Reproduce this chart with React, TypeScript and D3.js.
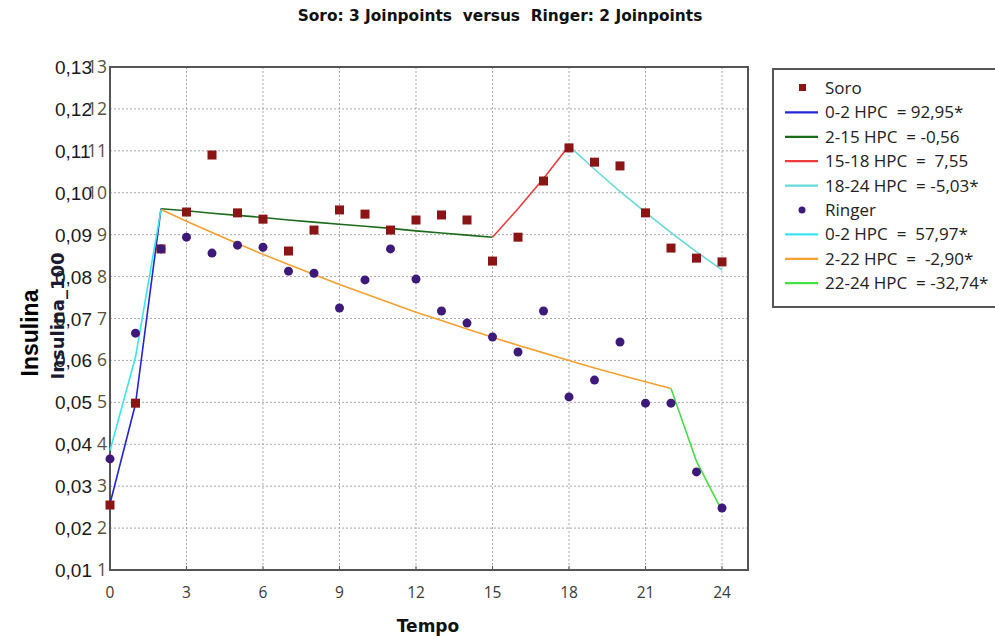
import React from "react";
import * as d3 from "d3";

const tempo = [0, 1, 2, 3, 4, 5, 6, 7, 8, 9, 10, 11, 12, 13, 14, 15, 16, 17, 18, 19, 20, 21, 22, 23, 24];
const soroObs = [2.55, 4.98, 8.66, 9.54, 10.9, 9.52, 9.37, 8.61, 9.11, 9.59, 9.49, 9.11, 9.35, 9.47, 9.35, 8.37, 8.94, 10.28, 11.07, 10.73, 10.64, 9.52, 8.68, 8.44, 8.35];
const ringerObs = [3.65, 6.65, 8.66, 8.94, 8.56, 8.75, 8.7, 8.13, 8.08, 7.25, 7.92, 8.66, 7.94, 7.18, 6.89, 6.56, 6.2, 7.18, 5.13, 5.53, 6.44, 4.98, 4.98, 3.34, 2.48];
const soroFit = [2.58, 4.96, 9.62, 9.57, 9.51, 9.46, 9.41, 9.35, 9.3, 9.25, 9.2, 9.15, 9.09, 9.04, 8.99, 8.94, 9.62, 10.34, 11.12, 10.56, 10.03, 9.53, 9.05, 8.59, 8.16];
const ringerFit = [3.85, 6.08, 9.6, 9.32, 9.05, 8.79, 8.53, 8.29, 8.05, 7.81, 7.59, 7.37, 7.15, 6.95, 6.75, 6.55, 6.36, 6.18, 6.0, 5.82, 5.65, 5.49, 5.33, 3.59, 2.41];

const soroSegs = [[0, 2], [2, 15], [15, 18], [18, 24]];
const soroSegLabels = ["0-2 HPC  = 92,95*", "2-15 HPC  = -0,56", "15-18 HPC  =  7,55", "18-24 HPC  = -5,03*"];
const soroSegColors = ["#2424d8", "#1b6b1b", "#ee3b3b", "#66d9d9"];
const ringerSegs = [[0, 2], [2, 22], [22, 24]];
const ringerSegLabels = ["0-2 HPC  =  57,97*", "2-22 HPC  =  -2,90*", "22-24 HPC  = -32,74*"];
const ringerSegColors = ["#3ae6f2", "#f5a030", "#44e044"];

const xTicks = [0, 3, 6, 9, 12, 15, 18, 21, 24];
const yTicks = [1, 2, 3, 4, 5, 6, 7, 8, 9, 10, 11, 12, 13];
const yTickOuter = ["0,01", "0,02", "0,03", "0,04", "0,05", "0,06", "0,07", "0,08", "0,09", "0,10", "0,11", "0,12", "0,13"];

const SORO_COLOR = "#8b1515";
const RINGER_COLOR = "#3d1a7a";

export default function App() {
  const x = d3.scaleLinear().domain([0, 24]).range([110, 722]);
  const y = d3.scaleLinear().domain([1, 13]).range([570, 67]);
  const left = 110, right = 748, top = 67, bottom = 570;

  const segPath = (fit: number[], a: number, b: number) => {
    const pts: [number, number][] = [];
    for (let i = 0; i < tempo.length; i++) {
      if (tempo[i] >= a && tempo[i] <= b) pts.push([x(tempo[i]), y(fit[i])]);
    }
    return d3.line()(pts) || "";
  };

  const legendRows: { kind: string; label: string; color: string }[] = [
    { kind: "square", label: "Soro", color: SORO_COLOR },
    ...soroSegLabels.map((l, i) => ({ kind: "line", label: l, color: soroSegColors[i] })),
    { kind: "circle", label: "Ringer", color: RINGER_COLOR },
    ...ringerSegLabels.map((l, i) => ({ kind: "line", label: l, color: ringerSegColors[i] })),
  ];

  return (
    <div style={{ position: "absolute", left: 0, top: 0 }}>
      <svg width={995} height={636} style={{ display: "block", background: "#fff" }}>
        <rect x={0} y={0} width={995} height={636} fill="#fff" />
        {/* title */}
        <text x={500} y={21} textAnchor="middle" fontFamily="DejaVu Sans" fontWeight="bold" fontSize={15.4} fill="#111" style={{ whiteSpace: "pre" }}>
          {"Soro: 3 Joinpoints  versus  Ringer: 2 Joinpoints"}
        </text>
        {/* grid */}
        {yTicks.filter((t) => t > 1 && t < 13).map((t) => (
          <line key={"gy" + t} x1={left} x2={right} y1={y(t)} y2={y(t)} stroke="#a8a8a8" strokeWidth={1} strokeDasharray="2,2" />
        ))}
        {xTicks.filter((t) => t > 0).map((t) => (
          <line key={"gx" + t} x1={x(t)} x2={x(t)} y1={top} y2={bottom} stroke="#a8a8a8" strokeWidth={1} strokeDasharray="2,2" />
        ))}
        {/* frame */}
        <rect x={left} y={top} width={right - left} height={bottom - top} fill="none" stroke="#555" strokeWidth={2} />
        {xTicks.map((t) => (
          <line key={"tx" + t} x1={x(t)} x2={x(t)} y1={bottom} y2={bottom - 4} stroke="#555" strokeWidth={1} />
        ))}
        {/* fitted lines */}
        {soroSegs.map((s, i) => (
          <path key={"ss" + i} d={segPath(soroFit, s[0], s[1])} fill="none" stroke={soroSegColors[i]} strokeWidth={1.6} />
        ))}
        {ringerSegs.map((s, i) => (
          <path key={"rs" + i} d={segPath(ringerFit, s[0], s[1])} fill="none" stroke={ringerSegColors[i]} strokeWidth={1.6} />
        ))}
        {/* points */}
        {tempo.map((t, i) => (
          <rect key={"sp" + i} x={x(t) - 4.5} y={y(soroObs[i]) - 4.5} width={9} height={9} fill={SORO_COLOR} />
        ))}
        {tempo.map((t, i) => (
          <circle key={"rp" + i} cx={x(t)} cy={y(ringerObs[i])} r={4.5} fill={RINGER_COLOR} />
        ))}
        {/* x tick labels */}
        {xTicks.map((t) => (
          <text key={"xl" + t} x={x(t)} y={598} textAnchor="middle" fontFamily="Open Sans" fontSize={15.5} fill="#3a3a3a">
            {t}
          </text>
        ))}
        <text x={428} y={632} textAnchor="middle" fontFamily="DejaVu Sans" fontWeight="bold" fontSize={17} fill="#111">Tempo</text>
        {/* y tick labels outer */}
        {yTicks.map((t, i) => (
          <text key={"yo" + t} x={55} y={y(t) + 7} textAnchor="start" fontFamily="Liberation Sans" fontSize={19} fill="#1a1a1a">
            {yTickOuter[i]}
          </text>
        ))}
        {/* y tick labels inner */}
        {yTicks.map((t) => (
          <text key={"yl" + t} x={107} y={y(t) + 6} textAnchor="end" fontFamily="Open Sans" fontSize={17.5} fill="#57523a">
            {t}
          </text>
        ))}
        {/* axis titles */}
        <text transform="translate(64,316) rotate(-90)" textAnchor="middle" fontFamily="DejaVu Sans" fontWeight="bold" fontSize={18} fill="#1a1a30">Insulina_100</text>
        <text transform="translate(38,333) rotate(-90)" textAnchor="middle" fontFamily="Liberation Sans" fontWeight="bold" fontSize={23} fill="#000">Insulina</text>
        {/* legend */}
        <rect x={773} y={69} width={240} height={238} fill="#fff" stroke="#555" strokeWidth={2} />
        {legendRows.map((r, i) => {
          const cy = 88 + i * 24.4;
          return (
            <g key={"lg" + i}>
              {r.kind === "line" && <line x1={785} x2={818} y1={cy} y2={cy} stroke={r.color} strokeWidth={2.2} />}
              {r.kind === "square" && <rect x={799} y={cy - 4} width={7} height={7} fill={r.color} />}
              {r.kind === "circle" && <circle cx={802} cy={cy} r={3.5} fill={r.color} />}
              <text x={825} y={cy + 6} fontFamily="Open Sans" fontSize={17} fill="#222" style={{ whiteSpace: "pre" }}>
                {r.label}
              </text>
            </g>
          );
        })}
      </svg>
    </div>
  );
}
